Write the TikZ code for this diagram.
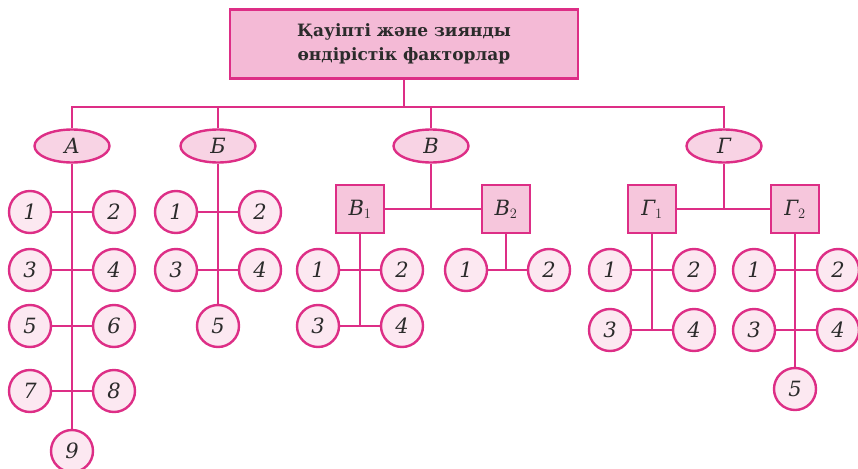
\documentclass[tikz,border=0pt]{standalone}
\usepackage{fontspec}
\setmainfont{DejaVu Serif}
\usetikzlibrary{shapes.geometric}
\definecolor{lineMag}{HTML}{DD2E86}
\definecolor{titleFill}{HTML}{F4BAD6}
\definecolor{ovalFill}{HTML}{F8D3E4}
\definecolor{dotFill}{HTML}{FCE8F1}
\definecolor{boxFill}{HTML}{F6C6DC}
\definecolor{inkGray}{HTML}{2B2B2B}
\tikzset{
  link/.style={draw=lineMag, line width=2.4pt},
  titlebox/.style={draw=lineMag, line width=2.6pt, fill=titleFill, minimum width=348pt,
    minimum height=69pt, align=center, text=inkGray, font=\bfseries\fontsize{17}{24}\selectfont},
  oval/.style={ellipse, draw=lineMag, line width=2.4pt, fill=ovalFill, minimum width=75pt,
    minimum height=33pt, inner sep=0pt, text=inkGray, font=\itshape\fontsize{21}{22}\selectfont},
  sqbox/.style={rectangle, draw=lineMag, line width=2.4pt, fill=boxFill, minimum size=48pt,
    inner sep=0pt, text=inkGray, font=\itshape\fontsize{21}{22}\selectfont},
  dot/.style={circle, draw=lineMag, line width=2.4pt, fill=dotFill, minimum size=42pt,
    inner sep=0pt, text=inkGray, font=\itshape\fontsize{21}{22}\selectfont}
}
\begin{document}
\begin{tikzpicture}[x=1pt,y=-1pt]
\useasboundingbox (0,0) rectangle (858,468);
\coordinate (bus) at (0,107);

% title
\node[titlebox] (title) at (404,44) {Қауіпті және зиянды\\өндірістік факторлар};

% first-level ovals
\node[oval] (nA) at (72,146) {А};
\node[oval] (nB) at (218,146) {Б};
\node[oval] (nV) at (431,146) {В};
\node[oval] (nG) at (724,146) {Г};

% squares
\node[sqbox] (v1) at (360,209) {В$_1$};
\node[sqbox] (v2) at (506,209) {В$_2$};
\node[sqbox] (g1) at (652,209) {Г$_1$};
\node[sqbox] (g2) at (795,209) {Г$_2$};

% group A
\node[dot] (a1) at (30,212) {1};
\node[dot] (a2) at (114,212) {2};
\node[dot] (a3) at (30,270) {3};
\node[dot] (a4) at (114,270) {4};
\node[dot] (a5) at (30,326) {5};
\node[dot] (a6) at (114,326) {6};
\node[dot] (a7) at (30,391) {7};
\node[dot] (a8) at (114,391) {8};
\node[dot] (a9) at (72,451) {9};

% group B
\node[dot] (b1) at (176,212) {1};
\node[dot] (b2) at (260,212) {2};
\node[dot] (b3) at (176,270) {3};
\node[dot] (b4) at (260,270) {4};
\node[dot] (b5) at (218,326) {5};

% group V
\node[dot] (v11) at (318,270) {1};
\node[dot] (v12) at (402,270) {2};
\node[dot] (v13) at (318,326) {3};
\node[dot] (v14) at (402,326) {4};
\node[dot] (v21) at (466,270) {1};
\node[dot] (v22) at (549,270) {2};

% group G
\node[dot] (g11) at (610,270) {1};
\node[dot] (g12) at (694,270) {2};
\node[dot] (g13) at (610,330) {3};
\node[dot] (g14) at (694,330) {4};
\node[dot] (g21) at (754,270) {1};
\node[dot] (g22) at (838,270) {2};
\node[dot] (g23) at (754,330) {3};
\node[dot] (g24) at (838,330) {4};
\node[dot] (g25) at (795,389) {5};

% bus from the title to the four ovals
\draw[link] (title.south) -- (title.south |- bus);
\draw[link] (nA.north) -- (nA.north |- bus) -- (nG.north |- bus) -- (nG.north);
\draw[link] (nB.north) -- (nB.north |- bus);
\draw[link] (nV.north) -- (nV.north |- bus);

% A
\draw[link] (nA.south) -- (a9.north);
\draw[link] (a1.east) -- (a2.west);
\draw[link] (a3.east) -- (a4.west);
\draw[link] (a5.east) -- (a6.west);
\draw[link] (a7.east) -- (a8.west);

% B
\draw[link] (nB.south) -- (b5.north);
\draw[link] (b1.east) -- (b2.west);
\draw[link] (b3.east) -- (b4.west);

% V
\draw[link] (nV.south) -- (nV.south |- v1.east);
\draw[link] (v1.east) -- (v2.west);
\draw[link] (v1.south) -- (v1.south |- v13.east);
\draw[link] (v11.east) -- (v12.west);
\draw[link] (v13.east) -- (v14.west);
\draw[link] (v2.south) -- (v2.south |- v21.east);
\draw[link] (v21.east) -- (v22.west);

% G
\draw[link] (nG.south) -- (nG.south |- g1.east);
\draw[link] (g1.east) -- (g2.west);
\draw[link] (g1.south) -- (g1.south |- g13.east);
\draw[link] (g11.east) -- (g12.west);
\draw[link] (g13.east) -- (g14.west);
\draw[link] (g2.south) -- (g25.north);
\draw[link] (g21.east) -- (g22.west);
\draw[link] (g23.east) -- (g24.west);
\end{tikzpicture}
\end{document}
